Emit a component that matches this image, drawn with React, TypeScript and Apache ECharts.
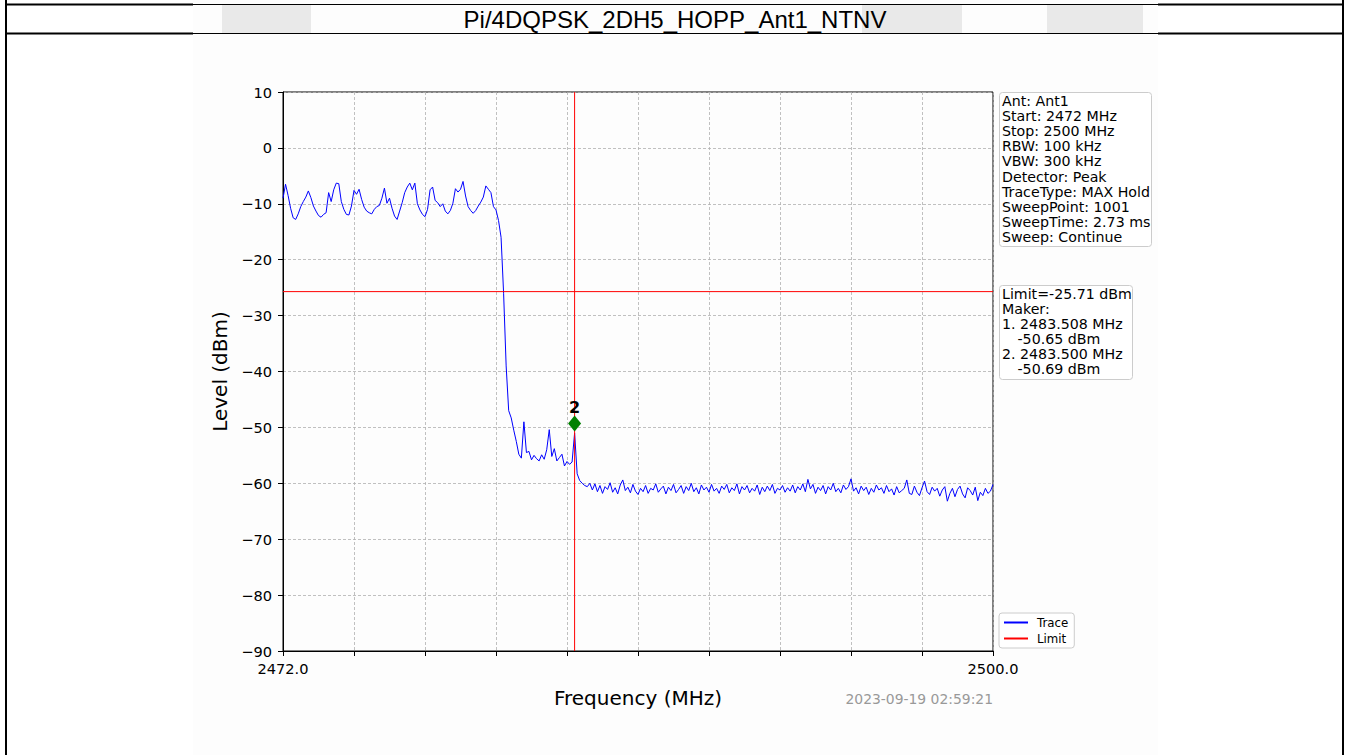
import React, { useEffect, useRef } from "react";
import * as echarts from "echarts";

// ---------- data ----------
const title = "Pi/4DQPSK_2DH5_HOPP_Ant1_NTNV";
const startFreq = 2472;
const stopFreq = 2500;
const freqStep = 0.1; // sweep spacing used for the traced points (MHz)
const xTickInterval = 2.8;
const xTickLabels = ["2472.0", "2500.0"];
const yMin = -90;
const yMax = 10;
const yInterval = 10;

const traceLevels = [
  -9.0, -6.5, -8.5, -10.8, -12.5, -12.8, -11.8, -10.5, -9.6, -8.8,
  -7.7, -8.9, -10.4, -11.3, -12.1, -12.4, -11.9, -11.6, -8.0, -9.6,
  -7.5, -6.3, -6.4, -9.6, -11.0, -11.9, -12.0, -10.4, -7.6, -8.3,
  -7.4, -9.2, -10.6, -11.3, -11.6, -11.8, -11.0, -10.5, -10.3, -9.0,
  -7.2, -9.9, -9.0, -10.8, -12.2, -12.8, -11.3, -9.8, -8.0, -7.0,
  -6.3, -7.5, -6.3, -10.0, -11.1, -11.9, -12.3, -11.0, -7.5, -7.0,
  -9.4, -9.8, -10.5, -10.0, -11.3, -11.8, -11.2, -9.9, -7.3, -7.9,
  -7.4, -6.0, -8.6, -10.5, -11.2, -11.7, -11.2, -10.4, -9.7, -8.8,
  -6.8, -7.4, -8.0, -10.5, -11.1, -13.0, -16.0, -26.0, -39.0, -47.0,
  -48.3, -50.5, -52.5, -54.8, -55.5, -49.0, -54.5, -54.3, -55.8, -55.0,
  -55.6, -56.0, -54.9, -55.7, -54.0, -50.4, -55.2, -53.8, -56.0, -55.4,
  -54.8, -56.9, -56.1, -56.6, -56.2, -51.0, -58.3, -59.5, -60.0, -60.4,
  -60.6, -60.0,
  -61.2, -60.1, -61.5, -60.4, -61.8, -60.6, -61.1, -59.9, -61.6, -60.8,
  -61.9, -60.3, -59.4, -61.3, -60.7, -61.7, -60.2, -61.4, -62.0, -60.9,
  -61.5, -60.4, -61.8, -60.9, -61.2, -60.1, -61.6, -61.0, -60.5, -61.9,
  -60.7, -61.3, -60.2, -61.7, -61.1, -60.4, -61.8, -60.6, -61.3, -60.0,
  -61.5, -60.8, -61.9, -60.3, -61.2, -60.7, -61.6, -60.2, -61.4, -60.9,
  -61.8, -60.5, -61.1, -60.2, -61.7, -60.8, -61.3, -60.1, -61.9, -60.6,
  -61.2, -60.4, -61.7, -60.9, -61.4, -60.3, -62.0, -60.7, -61.5, -60.5,
  -61.3, -60.2, -61.8, -60.9, -61.2, -60.4, -61.6, -60.8, -61.4, -60.3,
  -61.7, -60.6, -61.2, -60.1, -61.5, -59.3, -61.0, -60.2, -61.8, -60.7,
  -61.3, -60.4, -61.9, -60.6, -61.2, -60.0, -61.5, -60.9, -61.7, -60.3,
  -61.1, -60.6, -59.2, -61.4, -60.8, -61.9, -60.5, -61.3, -60.7, -62.0,
  -60.9, -61.6, -60.3, -61.2, -60.8, -61.8, -60.4, -61.5, -61.0, -62.1,
  -60.6, -61.7, -61.3, -60.9, -59.4, -61.8, -62.0, -60.5, -61.6, -62.2,
  -60.8, -59.6, -61.5, -62.0, -60.7, -61.4, -60.9, -62.3, -61.2, -60.6,
  -63.2, -61.8, -60.9, -62.4, -61.1, -60.5, -61.9, -62.6, -60.8, -61.3,
  -62.1, -60.7, -63.1, -61.6, -62.2, -60.9, -61.8, -61.4, -60.2,
];

const limitLevel = -25.71;
const markerFreq = 2483.5;
const markerLevel = -49.3;
const markerLabel = "2";

const infoLines = [
  "Ant: Ant1",
  "Start: 2472 MHz",
  "Stop: 2500 MHz",
  "RBW: 100 kHz",
  "VBW: 300 kHz",
  "Detector: Peak",
  "TraceType: MAX Hold",
  "SweepPoint: 1001",
  "SweepTime: 2.73 ms",
  "Sweep: Continue",
];
const markerInfoLines = [
  { text: "Limit=-25.71 dBm", indent: 0 },
  { text: "Maker:", indent: 0 },
  { text: "1. 2483.508 MHz", indent: 0 },
  { text: "-50.65 dBm", indent: 1 },
  { text: "2. 2483.500 MHz", indent: 0 },
  { text: "-50.69 dBm", indent: 1 },
];
const timestamp = "2023-09-19 02:59:21";
const xName = "Frequency (MHz)";
const yName = "Level (dBm)";

// ---------- layout ----------
const W = 1346;
const H = 755;
const PL = 283;
const PT = 92;
const PW = 710;
const PH = 559;
const FONT = '"DejaVu Sans", sans-serif';

function txt(x: number, y: number, text: string, font: string, fill = "#000", align = "left", extra: any = {}) {
  return {
    type: "text",
    x,
    y,
    ...extra,
    style: {
      text,
      font,
      fill,
      align,
      textAlign: align,
      verticalAlign: "middle",
      textVerticalAlign: "middle",
    },
  };
}

export default function App() {
  const ref = useRef<HTMLDivElement>(null);

  useEffect(() => {
    if (!ref.current) return;
    const chart = echarts.init(ref.current, undefined, { renderer: "svg", width: W, height: H });

    const traceData = traceLevels.map((v, i) => [
      Math.round((startFreq + i * freqStep) * 1000) / 1000,
      v,
    ]);

    const fmtY = (v: number) => (v < 0 ? "\u2212" + Math.abs(v) : String(v));
    const fmtX = (v: number) => {
      if (Math.abs(v - startFreq) < 1e-6) return xTickLabels[0];
      if (Math.abs(v - stopFreq) < 1e-6) return xTickLabels[1];
      return "";
    };

    const graphics: any[] = [];
    graphics.push({ type: "rect", z: -10, shape: { x: 193, y: 0, width: 965, height: H }, style: { fill: "#fdfdfd" } });
    graphics.push({ type: "rect", z: -5, shape: { x: 222, y: 5, width: 89, height: 28 }, style: { fill: "#e9e9e9" } });
    graphics.push({ type: "rect", z: -5, shape: { x: 862, y: 5, width: 100, height: 28 }, style: { fill: "#e9e9e9" } });
    graphics.push({ type: "rect", z: -5, shape: { x: 1047, y: 5, width: 96, height: 28 }, style: { fill: "#e9e9e9" } });
    graphics.push({ type: "rect", shape: { x: 5, y: 0, width: 2, height: H }, style: { fill: "#000" } });
    graphics.push({ type: "rect", shape: { x: 1342, y: 0, width: 2, height: H }, style: { fill: "#000" } });
    for (const yy of [3.5, 32.5]) {
      graphics.push({ type: "rect", shape: { x: 5, y: yy, width: 188, height: 2 }, style: { fill: "#000" } });
      graphics.push({ type: "rect", shape: { x: 193, y: yy + 0.5, width: 965, height: 1 }, style: { fill: "#000" } });
      graphics.push({ type: "rect", shape: { x: 1158, y: yy, width: 186, height: 2 }, style: { fill: "#000" } });
    }
    graphics.push(txt(675, 19, title, '24px "Liberation Sans", Arial, sans-serif', "#000", "center"));
    graphics.push({
      type: "rect",
      shape: { x: 999.5, y: 92.5, width: 152, height: 154, r: 3 },
      style: { fill: "#fff", stroke: "#cccccc", lineWidth: 1 },
    });
    infoLines.forEach((l, i) => graphics.push(txt(1002, 100.5 + i * 15.2, l, `14.2px ${FONT}`)));
    graphics.push({
      type: "rect",
      shape: { x: 999.5, y: 285.5, width: 133, height: 94, r: 3 },
      style: { fill: "#fff", stroke: "#cccccc", lineWidth: 1 },
    });
    markerInfoLines.forEach((l, i) =>
      graphics.push(txt(1002 + l.indent * 15.5, 294 + i * 15, l.text, `14.2px ${FONT}`))
    );
    graphics.push(txt(993, 699, timestamp, `13.9px ${FONT}`, "#999999", "right"));

    chart.setOption({
      animation: false,
      backgroundColor: "transparent",
      grid: {
        left: PL,
        top: PT,
        width: PW,
        height: PH,
        show: true,
        borderColor: "#000",
        borderWidth: 1,
        backgroundColor: "transparent",
      },
      legend: {
        left: 999,
        top: 613,
        orient: "vertical",
        itemWidth: 24,
        itemHeight: 2,
        itemGap: 3,
        padding: [3, 6, 3, 5],
        backgroundColor: "#fff",
        borderColor: "#cccccc",
        borderWidth: 1,
        borderRadius: 3,
        textStyle: { fontFamily: FONT, fontSize: 11.8, color: "#000", lineHeight: 13, padding: [0, 0, 0, 4] },
        data: [
          { name: "Trace", icon: "rect" },
          { name: "Limit", icon: "rect" },
        ],
      },
      xAxis: {
        type: "value",
        min: startFreq,
        max: stopFreq,
        interval: xTickInterval,
        name: xName,
        nameLocation: "middle",
        nameGap: 37,
        nameTextStyle: { fontFamily: FONT, fontSize: 20, color: "#000" },
        axisLine: { show: true, onZero: false, lineStyle: { color: "#000", width: 1 } },
        axisTick: { show: true, length: 5, lineStyle: { color: "#000", width: 1 } },
        axisLabel: {
          formatter: fmtX,
          fontFamily: FONT,
          fontSize: 14.6,
          color: "#000",
          margin: 10,
          showMinLabel: true,
          showMaxLabel: true,
          hideOverlap: false,
        },
        splitLine: { show: true, lineStyle: { color: "#b0b0b0", width: 0.8, type: [3, 2] } },
      },
      yAxis: {
        type: "value",
        min: yMin,
        max: yMax,
        interval: yInterval,
        name: yName,
        nameLocation: "middle",
        nameRotate: 90,
        nameGap: 50,
        nameTextStyle: { fontFamily: FONT, fontSize: 20, color: "#000" },
        axisLine: { show: true, onZero: false, lineStyle: { color: "#000", width: 1 } },
        axisTick: { show: true, length: 5, lineStyle: { color: "#000", width: 1 } },
        axisLabel: { formatter: fmtY, fontFamily: FONT, fontSize: 14.6, color: "#000", margin: 11 },
        splitLine: { show: true, lineStyle: { color: "#b0b0b0", width: 0.8, type: [3, 2] } },
      },
      series: [
        {
          name: "Trace",
          type: "line",
          data: traceData,
          showSymbol: false,
          symbol: "none",
          lineStyle: { color: "#0000ff", width: 1 },
          itemStyle: { color: "#0000ff" },
          z: 3,
        },
        {
          name: "Limit",
          type: "line",
          data: [
            [startFreq, limitLevel],
            [stopFreq, limitLevel],
          ],
          showSymbol: false,
          symbol: "none",
          lineStyle: { color: "#ff0000", width: 1 },
          itemStyle: { color: "#ff0000" },
          z: 4,
        },
        {
          name: "MarkerLine",
          type: "line",
          data: [
            [markerFreq, yMin],
            [markerFreq, yMax],
          ],
          showSymbol: false,
          symbol: "none",
          lineStyle: { color: "#ff0000", width: 1 },
          itemStyle: { color: "#ff0000" },
          z: 4,
        },
        {
          name: "Marker",
          type: "scatter",
          data: [[markerFreq, markerLevel]],
          symbol: "diamond",
          symbolSize: [13, 16],
          itemStyle: { color: "#008000", opacity: 1 },
          label: {
            show: true,
            formatter: markerLabel,
            position: "top",
            distance: 0,
            fontFamily: FONT,
            fontWeight: "bold",
            fontSize: 16,
            color: "#000",
          },
          z: 5,
        },
      ],
      graphic: { elements: graphics },
    });

    return () => chart.dispose();
  }, []);

  return (
    <div
      ref={ref}
      style={{ position: "absolute", left: 0, top: 0, width: W, height: H, background: "#fff" }}
    />
  );
}
